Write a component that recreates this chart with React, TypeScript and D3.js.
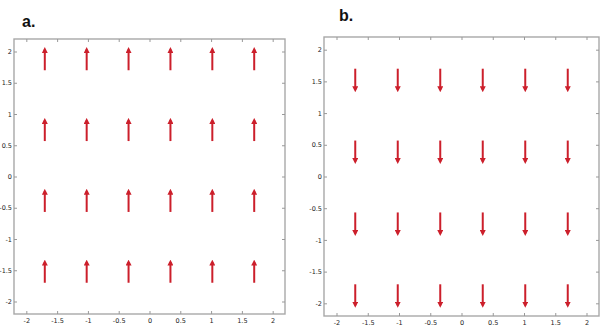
import React, { useEffect, useRef } from 'react';
import * as d3 from 'd3';

// grid points of the quiver plot and tick values
const arrowX = [-1.7, -1.02, -0.34, 0.34, 1.02, 1.7];
const arrowY = [1.7, 0.567, -0.567, -1.7];
const tickValues = [-2, -1.5, -1, -0.5, 0, 0.5, 1, 1.5, 2];
const domainLimit = [-2.2, 2.2];

// arrow vertical component per panel
const panels = [
  { label: 'a.', dy: 0.38, box: [14, 39, 285, 314], labelPos: [22, 27] },
  { label: 'b.', dy: -0.38, box: [324, 37, 599, 316], labelPos: [339, 21] },
];

const RED = '#cc1f2b';

const App = () => {
  const svgRef = useRef<SVGSVGElement>(null);

  useEffect(() => {
    const svg = d3.select(svgRef.current);
    svg.selectAll('*').remove();

    svg
      .append('defs')
      .append('marker')
      .attr('id', 'head')
      .attr('viewBox', '0 0 10 10')
      .attr('refX', 6)
      .attr('refY', 5)
      .attr('markerWidth', 3)
      .attr('markerHeight', 3)
      .attr('orient', 'auto')
      .append('path')
      .attr('d', 'M0,0 L10,5 L0,10 Z')
      .attr('fill', RED);

    panels.forEach((p) => {
      const [x0, y0, x1, y1] = p.box;
      const x = d3.scaleLinear().domain(domainLimit).range([x0, x1]);
      const y = d3.scaleLinear().domain(domainLimit).range([y1, y0]);
      const fmt = (d: any) => String(d);

      const g = svg.append('g');

      // frame
      g.append('rect')
        .attr('x', x0)
        .attr('y', y0)
        .attr('width', x1 - x0)
        .attr('height', y1 - y0)
        .attr('fill', '#fff')
        .attr('stroke', '#a8a8a8')
        .attr('stroke-width', 1.4);

      const styleAxis = (sel: any) => {
        sel.select('.domain').remove();
        sel.selectAll('line').attr('stroke', '#999');
        sel
          .selectAll('text')
          .attr('fill', '#222')
          .style('font-family', 'DejaVu Sans, sans-serif')
          .style('font-size', '6.5px');
      };

      g.append('g')
        .attr('transform', `translate(0,${y1})`)
        .call(
          d3.axisBottom(x).tickValues(tickValues).tickFormat(fmt).tickSizeInner(-3).tickSizeOuter(0).tickPadding(4)
        )
        .call(styleAxis);
      g.append('g')
        .attr('transform', `translate(${x0},0)`)
        .call(
          d3.axisLeft(y).tickValues(tickValues).tickFormat(fmt).tickSizeInner(-3).tickSizeOuter(0).tickPadding(2)
        )
        .call(styleAxis);
      g.append('g')
        .attr('transform', `translate(0,${y0})`)
        .call(d3.axisTop(x).tickValues(tickValues).tickFormat(() => '').tickSizeInner(-3).tickSizeOuter(0))
        .call(styleAxis);
      g.append('g')
        .attr('transform', `translate(${x1},0)`)
        .call(d3.axisRight(y).tickValues(tickValues).tickFormat(() => '').tickSizeInner(-3).tickSizeOuter(0))
        .call(styleAxis);

      // arrows
      const pts = arrowY.flatMap((yy) => arrowX.map((xx) => ({ xx, yy })));
      g.selectAll('line.arrow')
        .data(pts)
        .join('line')
        .attr('class', 'arrow')
        .attr('x1', (d) => x(d.xx))
        .attr('y1', (d) => y(d.yy))
        .attr('x2', (d) => x(d.xx))
        .attr('y2', (d) => y(d.yy + p.dy) + (p.dy > 0 ? 3 : -3))
        .attr('stroke', RED)
        .attr('stroke-width', 2)
        .attr('marker-end', 'url(#head)');

      svg
        .append('text')
        .attr('x', p.labelPos[0])
        .attr('y', p.labelPos[1])
        .attr('font-family', 'Liberation Sans, Arial, sans-serif')
        .attr('font-weight', 'bold')
        .attr('font-size', 16)
        .attr('fill', '#111')
        .text(p.label);
    });
  }, []);

  return <svg ref={svgRef} width={604} height={335} style={{ position: 'absolute', left: 0, top: 0 }} />;
};

export default App;
